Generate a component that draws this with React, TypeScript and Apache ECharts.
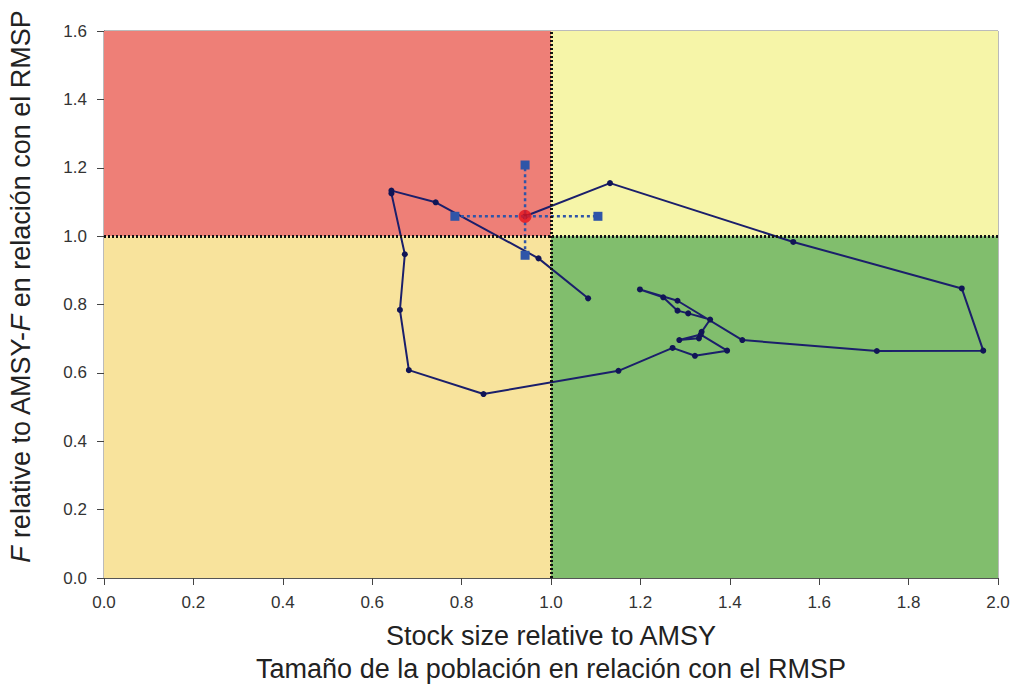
import React, { useEffect, useRef } from "react";
import * as echarts from "echarts";

// Trajectory (stock size relative to AMSY, F relative to AMSY-F)
const trajX = [0.942, 1.132, 1.542, 1.919, 1.967, 1.729, 1.428, 1.283, 1.199, 1.251, 1.283, 1.307, 1.356, 1.337, 1.331, 1.287, 1.335, 1.394, 1.322, 1.272, 1.151, 0.849, 0.682, 0.662, 0.673, 0.643, 0.643, 0.742, 0.972, 1.083];
const trajY = [1.058, 1.155, 0.983, 0.847, 0.665, 0.664, 0.696, 0.811, 0.844, 0.821, 0.782, 0.774, 0.756, 0.720, 0.701, 0.696, 0.712, 0.665, 0.650, 0.673, 0.606, 0.538, 0.608, 0.784, 0.947, 1.125, 1.133, 1.099, 0.935, 0.818];

// Current estimate with confidence limits
const current = [0.942, 1.058];
const ciX = [0.785, 1.105];
const ciY = [0.944, 1.208];

// Axis ticks
const xTicks = [0, 0.2, 0.4, 0.6, 0.8, 1.0, 1.2, 1.4, 1.6, 1.8, 2.0];
const yTicks = [0, 0.2, 0.4, 0.6, 0.8, 1.0, 1.2, 1.4, 1.6];

// Reference points and quadrant colours
const refX = 1.0;
const refY = 1.0;
const quadColors = {
  red: "#EE7F77",
  yellow: "#F6F5A8",
  orange: "#F8E39C",
  green: "#81BE6D",
};

const FONT = "'Liberation Sans', Arial, sans-serif";

export default function App() {
  const ref = useRef<HTMLDivElement>(null);

  useEffect(() => {
    if (!ref.current) return;
    const chart = echarts.init(ref.current, undefined, { renderer: "svg" });
    const xMin = xTicks[0];
    const xMax = xTicks[xTicks.length - 1];
    const yMin = yTicks[0];
    const yMax = yTicks[yTicks.length - 1];

    const option: any = {
      animation: false,
      backgroundColor: "#ffffff",
      grid: {
        left: 104,
        right: 16,
        top: 31,
        bottom: 106,
        containLabel: false,
        outerBoundsMode: "none",
        show: true,
        borderColor: "#777",
        borderWidth: 1,
        backgroundColor: "transparent",
      },
      xAxis: {
        type: "value",
        min: xMin,
        max: xMax,
        interval: 0.2,
        splitLine: { show: false },
        axisLine: { show: true, onZero: false, lineStyle: { color: "#555", width: 1 } },
        axisTick: { show: true, length: 7, lineStyle: { color: "#444" } },
        axisLabel: {
          color: "#333",
          fontSize: 17,
          fontFamily: FONT,
          margin: 16,
          formatter: (v: number) => v.toFixed(1),
        },
        name: "Stock size relative to AMSY\nTamaño de la población en relación con el RMSP",
        nameLocation: "middle",
        nameGap: 41,
        nameTextStyle: {
          color: "#222",
          fontSize: 27,
          fontFamily: FONT,
          lineHeight: 33,
        },
      },
      yAxis: {
        type: "value",
        min: yMin,
        max: yMax,
        interval: 0.2,
        splitLine: { show: false },
        axisLine: { show: true, onZero: false, lineStyle: { color: "#555", width: 1 } },
        axisTick: { show: true, length: 7, lineStyle: { color: "#444" } },
        axisLabel: {
          color: "#333",
          fontSize: 17,
          fontFamily: FONT,
          margin: 17,
          formatter: (v: number) => v.toFixed(1),
        },
        name: "{i|F} relative to AMSY-{i|F} en relación con el RMSP",
        nameLocation: "middle",
        nameGap: 70,
        nameTextStyle: {
          color: "#222",
          fontSize: 27,
          fontFamily: FONT,
          padding: [0, 0, 0, 36],
          rich: {
            i: { fontStyle: "italic", fontSize: 27, fontFamily: FONT, color: "#222" },
          },
        },
      },
      series: [
        {
          type: "line",
          data: [],
          silent: true,
          markArea: {
            silent: true,
            data: [
              [
                { coord: [xMin, refY], itemStyle: { color: quadColors.red } },
                { coord: [refX, yMax] },
              ],
              [
                { coord: [refX, refY], itemStyle: { color: quadColors.yellow } },
                { coord: [xMax, yMax] },
              ],
              [
                { coord: [xMin, yMin], itemStyle: { color: quadColors.orange } },
                { coord: [refX, refY] },
              ],
              [
                { coord: [refX, yMin], itemStyle: { color: quadColors.green } },
                { coord: [xMax, refY] },
              ],
            ],
          },
          markLine: {
            silent: true,
            symbol: "none",
            label: { show: false },
            lineStyle: { color: "#111", type: [2, 2], width: 3 },
            data: [{ xAxis: refX }, { yAxis: refY }],
          },
        },
        {
          type: "line",
          data: trajX.map((x, i) => [x, trajY[i]]),
          symbol: "circle",
          symbolSize: 6,
          lineStyle: { color: "#1B1F6B", width: 2 },
          itemStyle: { color: "#111556" },
          z: 3,
        },
        {
          type: "line",
          data: ciX.map((x) => [x, current[1]]),
          symbol: "rect",
          symbolSize: 9,
          lineStyle: { color: "#2F55A8", width: 2.5, type: [3, 3] },
          itemStyle: { color: "#2F55A8" },
          z: 4,
        },
        {
          type: "line",
          data: ciY.map((y) => [current[0], y]),
          symbol: "rect",
          symbolSize: 9,
          lineStyle: { color: "#2F55A8", width: 2.5, type: [3, 3] },
          itemStyle: { color: "#2F55A8" },
          z: 4,
        },
        {
          type: "scatter",
          data: [current],
          symbol: "circle",
          symbolSize: 13,
          itemStyle: { color: "#E5131B" },
          z: 5,
        },
      ],
    };
    chart.setOption(option);
    return () => chart.dispose();
  }, []);

  return (
    <div
      ref={ref}
      style={{ position: "fixed", left: 0, top: 0, width: 1014, height: 684 }}
    />
  );
}
